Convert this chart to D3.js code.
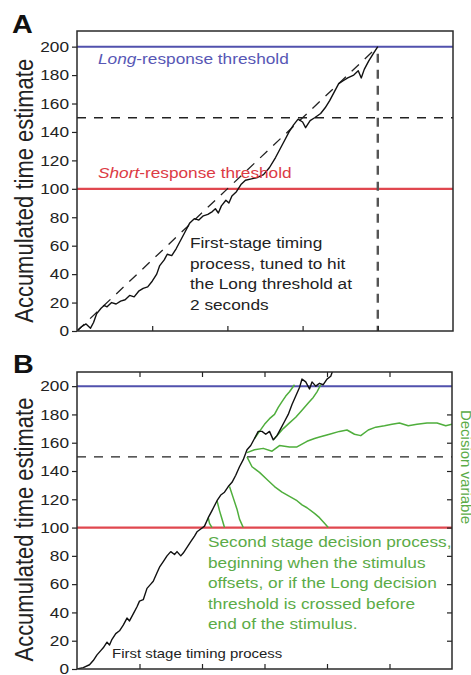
<!DOCTYPE html>
<html>
<head>
<meta charset="utf-8">
<script src="https://cdn.jsdelivr.net/npm/d3@7"></script>
<style>
  html, body { margin: 0; padding: 0; background: #fff; }
  svg { display: block; font-family: "Liberation Sans", Arial, Helvetica, sans-serif; }
</style>
</head>
<body>
<svg id="chart" width="471" height="675"></svg>
<script>
// ---------------- DATA ----------------
const yTicks = [0, 20, 40, 60, 80, 100, 120, 140, 160, 180, 200];
const xTicksA = [0.5, 1, 1.5, 2];
const xTicksB = [0.5, 1, 1.5, 2, 2.5];
const longThreshold = 200;
const shortThreshold = 100;
const midThreshold = 150;
const targetTime = 2;

// Panel A: first-stage timing process [time (s), accumulated estimate]
const timingA = [
  [0,0],[0.03,3],[0.06,5],[0.09,2],[0.11,6],[0.13,12],[0.16,16],[0.18,18],[0.2,17],[0.23,20],
  [0.26,19],[0.29,21],[0.32,22],[0.35,25],[0.38,24],[0.41,28],[0.44,30],[0.47,31],[0.5,35],
  [0.53,40],[0.55,46],[0.58,50],[0.6,54],[0.63,53],[0.66,58],[0.69,64],[0.72,70],[0.75,76],
  [0.78,79],[0.81,78],[0.84,81],[0.87,82],[0.9,84],[0.92,86],[0.94,83],[0.96,88],[0.99,92],
  [1.01,90],[1.03,95],[1.06,98],[1.09,103],[1.12,106],[1.16,107],[1.2,108],[1.24,110],
  [1.28,115],[1.32,122],[1.35,128],[1.38,134],[1.41,140],[1.44,145],[1.47,149],[1.5,147],
  [1.52,143],[1.55,148],[1.58,150],[1.62,153],[1.65,157],[1.68,162],[1.71,168],[1.74,174],
  [1.77,176],[1.8,178],[1.84,180],[1.87,183],[1.89,178],[1.91,184],[1.94,190],[1.97,195],[2.0,200]
];
// Panel A: ideal (noise-free) timing ramp
const idealA = [[0,0],[2,200]];

// Panel B: first-stage timing process
const timingB = [
  [0,0],[0.05,1],[0.1,3],[0.13,6],[0.16,10],[0.19,13],[0.21,15],[0.24,19],[0.26,17],[0.28,21],
  [0.31,25],[0.34,27],[0.37,31],[0.4,36],[0.42,34],[0.45,39],[0.48,44],[0.5,48],[0.53,49],
  [0.56,57],[0.59,60],[0.61,62],[0.64,68],[0.66,72],[0.69,76],[0.72,80],[0.75,83],[0.78,81],
  [0.8,83],[0.83,80],[0.85,82],[0.88,86],[0.91,90],[0.94,94],[0.96,97],[0.99,99],[1.02,101],
  [1.05,107],[1.08,112],[1.12,119],[1.15,123],[1.18,125],[1.21,129],[1.24,132],[1.27,137],
  [1.3,143],[1.33,148],[1.36,155],[1.39,158],[1.42,163],[1.45,168],[1.48,168],[1.51,166],
  [1.54,168],[1.57,162],[1.6,165],[1.63,170],[1.66,175],[1.69,180],[1.72,187],[1.75,193],
  [1.78,199],[1.8,205],[1.83,203],[1.86,198],[1.88,203],[1.91,200],[1.94,202],[1.97,201],
  [2.0,205],[2.03,207],[2.05,212]
];
// Panel B: second-stage decision variables
const decisionUp1 = [[1.42,163],[1.46,168],[1.5,173],[1.54,177],[1.58,180],[1.61,185],[1.64,189],[1.67,193],[1.7,196],[1.74,201]];
const decisionUp2 = [[1.57,162],[1.61,166],[1.65,170],[1.7,174],[1.75,178],[1.8,183],[1.85,188],[1.89,192],[1.92,196],[1.95,201]];
const decisionFlat = [[1.36,153],[1.42,155],[1.49,156],[1.56,154],[1.62,158],[1.7,157],[1.76,157],[1.84,161],[1.9,163],[1.94,164],
  [2.02,166],[2.1,168],[2.16,169],[2.22,166],[2.27,165],[2.33,169],[2.39,171],[2.46,172],[2.52,173],[2.58,174],
  [2.65,172],[2.72,173],[2.8,174],[2.88,174],[2.95,172],[3.0,173]];
const decisionDown1 = [[1.05,107],[1.06,103],[1.08,100]];
const decisionDown2 = [[1.12,119],[1.14,112],[1.16,106],[1.18,100]];
const decisionDown3 = [[1.22,129],[1.25,121],[1.28,113],[1.3,106],[1.33,100]];
const decisionDown4 = [[1.36,150],[1.4,143],[1.46,139],[1.52,134],[1.58,129],[1.64,125],[1.7,122],[1.76,119],
  [1.8,116],[1.84,114],[1.9,110],[1.94,107],[1.98,103],[2.01,100]];

// ---------------- DRAWING ----------------
const svg = d3.select("#chart");
const SX = 1.15; // horizontal stretch of the reference typography
const blue = "#5151ad", red = "#e0474f", green = "#4fae3c", greenText = "#5bab47";

function stretchedText(g, x, y, parts, opts = {}) {
  const t = g.append("g").attr("transform", `translate(${x},${y}) scale(${SX},1)`)
    .append("text")
    .attr("font-size", opts.size || 15)
    .attr("fill", opts.color || "#222")
    .attr("font-weight", opts.weight || "normal")
    .attr("text-anchor", opts.anchor || "start");
  parts.forEach(p => {
    t.append("tspan").attr("font-style", p.italic ? "italic" : "normal").text(p.text);
  });
  return t;
}

function panel(cfg) {
  const x = d3.scaleLinear().domain(cfg.xDomain).range([cfg.left, cfg.right]);
  const y = d3.scaleLinear().domain(cfg.yDomain).range([cfg.bottom, cfg.top]);
  const g = svg.append("g");
  const clipId = "clip" + cfg.name;
  svg.append("clipPath").attr("id", clipId).append("rect")
    .attr("x", cfg.left).attr("y", cfg.top)
    .attr("width", cfg.right - cfg.left).attr("height", cfg.bottom - cfg.top);
  const plot = g.append("g").attr("clip-path", `url(#${clipId})`);
  const line = d3.line().x(d => x(d[0])).y(d => y(d[1]));

  // left axis (outward ticks, labels)
  const left = g.append("g").attr("transform", `translate(${cfg.left},0)`)
    .call(d3.axisLeft(y).tickValues(yTicks).tickSize(5).tickPadding(3).tickFormat(d3.format("d")));
  left.select(".domain").remove();
  left.selectAll("line").attr("stroke", "#222").attr("stroke-width", 1.2);
  left.selectAll("text").remove();
  yTicks.forEach(v => {
    stretchedText(g, cfg.left - 8, y(v) + 5.3, [{text: String(v)}], {size: 15, anchor: "end"});
  });
  // bottom axis (inward ticks)
  const bottom = g.append("g").attr("transform", `translate(0,${cfg.bottom})`)
    .call(d3.axisBottom(x).tickValues(cfg.xTicks).tickSize(-5).tickFormat(""));
  bottom.select(".domain").remove();
  bottom.selectAll("line").attr("stroke", "#222").attr("stroke-width", 1.2);
  if (cfg.topTicks) {
    const top = g.append("g").attr("transform", `translate(0,${cfg.top})`)
      .call(d3.axisTop(x).tickValues(cfg.xTicks).tickSize(-5).tickFormat(""));
    top.select(".domain").remove();
    top.selectAll("line").attr("stroke", "#222").attr("stroke-width", 1.2);
  }
  if (cfg.rightTicks) {
    const right = g.append("g").attr("transform", `translate(${cfg.right},0)`)
      .call(d3.axisRight(y).tickValues(yTicks.filter(v => v > 0 && v < 200)).tickSize(-5).tickFormat(""));
    right.select(".domain").remove();
    right.selectAll("line").attr("stroke", "#222").attr("stroke-width", 1.2);
  }

  // thresholds
  plot.append("line").attr("x1", cfg.left).attr("x2", cfg.right)
    .attr("y1", y(longThreshold)).attr("y2", y(longThreshold))
    .attr("stroke", blue).attr("stroke-width", 2);
  plot.append("line").attr("x1", cfg.left).attr("x2", cfg.right)
    .attr("y1", y(shortThreshold)).attr("y2", y(shortThreshold))
    .attr("stroke", red).attr("stroke-width", 2.2);
  plot.append("line").attr("x1", cfg.left).attr("x2", cfg.right)
    .attr("y1", y(midThreshold)).attr("y2", y(midThreshold))
    .attr("stroke", "#222").attr("stroke-width", 1.4).attr("stroke-dasharray", "9,8");

  // frame
  g.append("rect").attr("x", cfg.left).attr("y", cfg.top)
    .attr("width", cfg.right - cfg.left).attr("height", cfg.bottom - cfg.top)
    .attr("fill", "none").attr("stroke", "#2a2a2a").attr("stroke-width", 1.5);

  // y label
  g.append("g").attr("transform", `translate(${cfg.left - 44},${(cfg.bottom + y(200)) / 2 + 2}) scale(${SX},1) rotate(-90)`)
    .append("text").attr("text-anchor", "middle").attr("font-size", 22).attr("fill", "#222")
    .text("Accumulated time estimate");

  // panel letter
  stretchedText(svg, cfg.letterX, cfg.letterY, [{text: cfg.name}], {size: 25, weight: "bold", color: "#111"});

  return {x, y, g, plot, line};
}

// ---- Panel A ----
const A = panel({name: "A", xDomain: [0, 2.5], yDomain: [0, 211], left: 77, right: 453, top: 31, bottom: 331,
  xTicks: xTicksA, topTicks: false, rightTicks: false, letterX: 12, letterY: 33});
A.plot.append("line").attr("x1", A.x(targetTime)).attr("x2", A.x(targetTime))
  .attr("y1", A.y(195)).attr("y2", A.y(0))
  .attr("stroke", "#555").attr("stroke-width", 2.4).attr("stroke-dasharray", "9,7");
A.plot.append("path").datum(idealA).attr("d", A.line).attr("fill", "none")
  .attr("stroke", "#222").attr("stroke-width", 1.3).attr("stroke-dasharray", "10,8");
A.plot.append("path").datum(timingA).attr("d", A.line).attr("fill", "none")
  .attr("stroke", "#111").attr("stroke-width", 1.4).attr("stroke-linejoin", "round");

stretchedText(svg, 98, 64, [{text: "Long", italic: true}, {text: "-response threshold"}], {color: "#5757b5"});
stretchedText(svg, 98, 178, [{text: "Short", italic: true}, {text: "-response threshold"}], {color: "#dc3b45"});
["First-stage timing", "process, tuned to hit", "the Long threshold at", "2 seconds"].forEach((s, i) => {
  stretchedText(svg, 190, 248 + i * 20.5, [{text: s}], {color: "#222"});
});

// ---- Panel B ----
const B = panel({name: "B", xDomain: [0, 3], yDomain: [0, 210], left: 77, right: 452, top: 372, bottom: 669,
  xTicks: xTicksB, topTicks: true, rightTicks: true, letterX: 13, letterY: 373});
[decisionUp1, decisionUp2, decisionFlat, decisionDown1, decisionDown2, decisionDown3, decisionDown4].forEach(d => {
  B.plot.append("path").datum(d).attr("d", B.line).attr("fill", "none")
    .attr("stroke", green).attr("stroke-width", 1.5).attr("stroke-linejoin", "round");
});
B.plot.append("path").datum(timingB).attr("d", B.line).attr("fill", "none")
  .attr("stroke", "#111").attr("stroke-width", 1.4).attr("stroke-linejoin", "round");

["Second stage decision process,", "beginning when the stimulus", "offsets, or if the Long decision",
 "threshold is crossed before", "end of the stimulus."].forEach((s, i) => {
  stretchedText(svg, 208, 547 + i * 20.5, [{text: s}], {color: greenText});
});
stretchedText(svg, 112, 658, [{text: "First stage timing process"}], {size: 13, color: "#222"});

svg.append("text").attr("transform", "translate(461,467) rotate(90)")
  .attr("text-anchor", "middle").attr("font-size", 15).attr("fill", greenText)
  .text("Decision variable");
</script>
</body>
</html>
